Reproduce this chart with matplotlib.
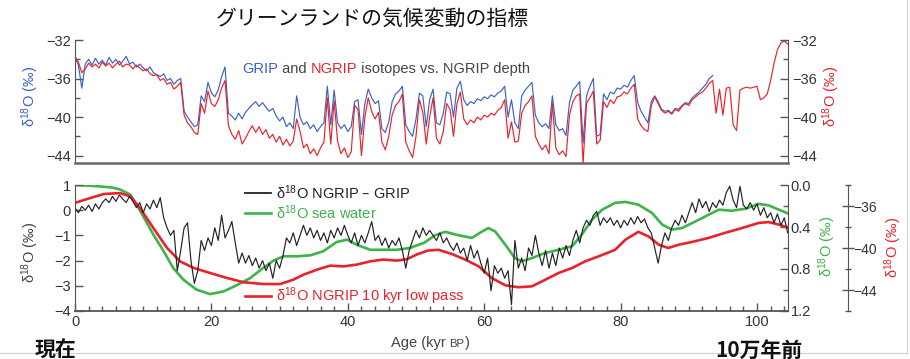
import numpy as np
import matplotlib
matplotlib.use("Agg")
import matplotlib.pyplot as plt
from matplotlib.ticker import FixedLocator, MultipleLocator, FuncFormatter
from matplotlib.offsetbox import TextArea, HPacker, AnchoredOffsetbox
from matplotlib.lines import Line2D

plt.rcParams['font.family'] = ['Liberation Sans', 'Noto Sans CJK JP', 'DejaVu Sans']
plt.rcParams['mathtext.default'] = 'regular'
plt.rcParams['axes.unicode_minus'] = True

# ---------------------------------------------------------------------------
# Data
# ---------------------------------------------------------------------------
STEP = 0.5  # kyr between samples of the isotope records

# NGRIP d18O (permil), 0 .. 104.5 kyr BP
ngrip = [
    -33.7, -34.3, -35.4, -35.0, -34.4, -34.8, -34.5, -34.9, -34.3, -34.7,
    -34.4, -34.9, -34.5, -34.2, -34.8, -34.5, -34.6, -35.0, -34.6, -34.9,
    -35.2, -35.0, -35.5, -35.7, -35.6, -36.2, -36.0, -36.6, -36.4, -37.1,
    -36.8, -36.4, -39.8, -40.6, -41.0, -41.6, -41.8, -38.6, -39.6, -37.3,
    -38.6, -38.9, -38.2, -37.0, -36.2, -40.9, -41.8, -42.3, -41.4, -42.8,
    -42.2, -41.5, -40.9, -41.6, -41.0, -41.8, -41.3, -42.2, -41.8, -42.6,
    -42.0, -42.9, -42.3, -43.0, -42.5, -40.2, -41.5, -43.2, -42.8, -43.8,
    -43.3, -44.0, -43.2, -42.6, -38.0, -42.8, -38.3, -42.5, -43.8, -43.2,
    -44.2, -43.6, -38.8, -39.2, -44.0, -40.0, -38.0, -39.4, -40.2, -39.5,
    -42.6, -43.4, -42.0, -39.8, -38.8, -38.4, -37.6, -42.6, -43.5, -44.2,
    -42.0, -38.2, -39.5, -42.8, -40.0, -38.0, -42.2, -42.8, -41.5, -38.6,
    -39.2, -42.0, -38.6, -37.4, -40.2, -40.8, -40.3, -40.6, -40.0, -40.3,
    -39.8, -40.0, -39.6, -39.8, -39.3, -39.0, -38.2, -42.2, -40.5, -42.6,
    -42.5, -39.6, -38.8, -38.4, -37.8, -42.0, -42.8, -43.4, -42.9, -43.8,
    -38.6, -43.2, -43.9, -43.5, -44.1, -39.8, -38.4, -37.8, -37.6, -44.8,
    -38.6, -38.0, -37.3, -42.8, -42.4, -38.4, -39.0, -38.2, -38.6, -37.9,
    -37.8, -37.4, -37.6, -37.0, -36.6, -40.2, -40.9, -41.3, -41.5, -38.8,
    -37.9, -38.6, -39.3, -39.6, -39.4, -39.7, -39.2, -39.4, -38.9, -38.6,
    -38.8, -38.2, -37.9, -37.6, -37.4, -37.0, -36.5, -36.2, -39.6, -37.1,
    -39.8, -37.0, -36.9, -40.8, -41.4, -37.2, -37.0, -36.9, -37.0, -36.9,
    -36.8, -38.2, -38.0, -37.6, -36.2, -34.4, -33.0, -32.3, -32.1, -32.4,
]

# GRIP d18O (permil) on the NGRIP depth scale, 0 .. 93.5 kyr BP
grip = [
    -33.8, -34.6, -37.0, -34.5, -34.0, -34.6, -33.9, -34.5, -34.1, -34.6,
    -33.8, -34.4, -34.0, -34.6, -34.2, -33.7, -34.5, -34.3, -34.8, -34.5,
    -34.9, -35.2, -34.8, -35.4, -35.6, -35.8, -35.5, -36.2, -36.0, -36.6,
    -36.2, -36.0, -39.4, -40.0, -40.5, -41.0, -40.8, -37.8, -38.4, -36.4,
    -37.5, -37.9, -37.2, -35.8, -34.8, -39.6, -39.9, -40.3, -39.6, -40.2,
    -39.5, -39.1, -38.7, -38.4, -38.9, -38.5, -39.0, -39.4, -39.1, -39.9,
    -40.4, -40.0, -41.0, -40.6, -41.2, -37.8, -40.0, -40.8, -40.5, -41.2,
    -40.8, -41.5, -41.0, -40.6, -36.8, -40.8, -37.2, -40.6, -41.2, -40.8,
    -41.5, -41.0, -38.4, -38.2, -41.8, -38.6, -37.1, -38.0, -38.6, -38.3,
    -41.2, -41.6, -40.5, -38.4, -37.6, -37.3, -36.8, -40.8, -41.5, -42.0,
    -40.2, -37.5, -37.8, -41.0, -38.2, -37.1, -40.6, -40.8, -39.6, -37.4,
    -37.6, -40.0, -37.0, -36.3, -38.2, -38.8, -38.4, -38.6, -38.1, -38.3,
    -37.9, -38.1, -37.7, -37.9, -37.5, -37.3, -36.8, -40.0, -38.2, -40.6,
    -41.2, -37.8, -37.2, -36.8, -36.4, -39.8, -40.6, -41.0, -40.7, -41.2,
    -37.8, -40.8, -41.4, -41.2, -41.9, -38.5, -37.2, -36.8, -36.3, -42.7,
    -37.8, -36.8, -36.0, -42.0, -41.8, -37.6, -38.2, -37.4, -37.6, -37.0,
    -37.1, -36.7, -36.9, -36.2, -35.7, -38.5, -39.4, -40.0, -40.6, -38.4,
    -37.8, -38.4, -39.2, -39.4, -39.3, -39.6, -39.1, -39.2, -38.8, -38.5,
    -38.6, -38.0, -37.7, -37.4, -37.0, -36.6, -36.0, -35.7,
]

# NGRIP - GRIP difference signal (permil), 0 .. 104.5 kyr BP
ngrip_minus_grip = [
    0.10, -0.10, 0.15, 0.00, 0.20, -0.05, 0.25, 0.05, 0.30, 0.45,
    0.30, 0.55, 0.35, 0.60, 0.45, 0.30, 0.55, 0.35, 0.10, 0.30,
    -0.10, 0.25, 0.05, 0.40, 0.10, 0.50, -0.30, -0.70, -1.00, -0.80,
    -2.40, -1.60, -0.70, -0.50, -2.00, -2.90, -2.40, -1.20, -1.60, -1.10,
    -1.40, -0.70, -1.20, -0.20, -1.10, -0.80, -0.45, -1.30, -2.10, -1.70,
    -2.10, -1.80, -2.20, -1.90, -2.30, -2.00, -2.40, -2.10, -2.70, -2.00,
    -2.30, -1.80, -1.10, -1.30, -0.90, -1.40, -1.00, -0.60, -1.00, -0.70,
    -1.10, -0.80, -1.20, -0.90, -1.30, -0.80, -1.10, -0.70, -1.00, -0.60,
    -1.00, -1.30, -0.90, -1.40, -1.00, -1.30, -0.90, -0.45, -1.20, -1.00,
    -1.40, -1.10, -1.50, -1.20, -1.40, -1.10, -1.60, -2.30, -1.60, -1.20,
    -0.80, -1.10, -0.70, -1.00, -0.80, -1.00, -1.20, -0.90, -1.30, -1.10,
    -1.40, -1.60, -1.30, -1.70, -1.50, -2.00, -1.40, -1.90, -1.60, -2.10,
    -2.50, -1.90, -3.20, -2.20, -2.50, -2.30, -2.70, -2.40, -3.75, -1.20,
    -2.30, -1.90, -2.40, -1.50, -1.80, -1.00, -1.70, -2.20, -1.60, -2.30,
    -1.70, -2.20, -1.50, -1.90, -1.40, -1.80, -1.20, -0.80, -1.30, -0.70,
    -0.40, -0.60, -0.20, -0.05, -0.60, -0.30, -0.50, -0.30, -0.60, -0.40,
    -0.70, -0.40, -0.60, -0.30, -0.55, -0.25, -0.50, -0.35, -0.70, -0.90,
    -1.50, -2.10, -1.40, -0.90, -1.20, -0.70, -0.40, -0.60, -0.20, -0.50,
    -0.10, 0.30, -0.10, 0.45, 0.10, 0.35, -0.05, 0.30, 0.10, 0.40,
    0.20, 0.70, 0.95, 0.40, 0.10, 0.95, 0.20, 0.05, 0.30, 0.00,
    0.25, -0.20, 0.10, -0.30, -0.10, -0.50, -0.15, -0.60, -0.30, -0.90,
]

# Sea-water d18O (permil)
sea_age = [0, 3, 5.5, 6.6, 8.1, 9.05, 10, 11.5, 13, 14.4, 15.9, 17.8, 19.8,
           21.8, 23.7, 25.7, 27.6, 29.1, 30.6, 32.5, 34.5, 36.4, 38.4, 39.9,
           41.3, 43.3, 45.2, 47.2, 49.1, 51.2, 52.8, 54.3, 56.2, 58.2, 59.6,
           60.6, 61.6, 63.1, 64.5, 65.5, 67, 68.9, 70.9, 72.9, 74.3, 75.8,
           77.3, 79.2, 80.7, 82.6, 84.6, 86.1, 87.5, 89, 91, 92.9, 94.4,
           96.3, 98.3, 100.2, 101.7, 103.2, 104.5]
sea_water = [0.0, 0.01, 0.025, 0.043, 0.091, 0.187, 0.298, 0.473, 0.631,
             0.79, 0.902, 0.996, 1.039, 1.013, 0.955, 0.886, 0.79, 0.72,
             0.679, 0.679, 0.67, 0.631, 0.542, 0.521, 0.569, 0.617, 0.617,
             0.617, 0.60, 0.55, 0.478, 0.446, 0.478, 0.504, 0.446, 0.41,
             0.442, 0.569, 0.696, 0.727, 0.696, 0.648, 0.617, 0.583, 0.473,
             0.331, 0.235, 0.17, 0.161, 0.187, 0.266, 0.377, 0.425, 0.41,
             0.346, 0.283, 0.235, 0.245, 0.226, 0.18, 0.194, 0.235, 0.27]

# NGRIP d18O, 10 kyr low pass (permil)
lowpass_age = [0, 2.2, 4.2, 6.6, 8.1, 9.5, 11.5, 13.5, 15.4, 17.4, 19.8,
               22.3, 24.7, 27.6, 30.1, 32, 33.5, 35.5, 37.4, 39.4, 41.3,
               43.3, 45.2, 47.2, 48.7, 50.1, 51.7, 53.3, 55.3, 57.2, 59.2,
               61.1, 63.1, 65, 67, 68.5, 70.9, 72.9, 74.8, 76.8, 79.2, 80.7,
               82.6, 84.1, 85.6, 87, 88.5, 90.5, 92.9, 95.3, 97.8, 100.2,
               101.7, 103.2, 104.5]
ngrip_lowpass = [-35.70, -35.25, -34.86, -34.77, -35.08, -36.18, -38.10,
                 -40.00, -41.27, -41.90, -42.38, -42.86, -43.26, -43.43,
                 -43.43, -43.02, -42.54, -42.06, -41.68, -41.75, -41.58,
                 -41.27, -41.10, -41.20, -41.06, -40.62, -40.25, -40.17,
                 -40.58, -41.10, -41.75, -42.86, -43.55, -43.74, -43.65,
                 -43.17, -42.38, -41.90, -41.27, -40.79, -40.17, -39.21,
                 -38.46, -38.90, -39.69, -40.00, -39.69, -39.42, -39.04,
                 -38.56, -38.10, -37.62, -37.53, -37.77, -38.05]

age_ngrip = STEP * np.arange(len(ngrip))
age_grip = STEP * np.arange(len(grip))
age_diff = STEP * np.arange(len(ngrip_minus_grip))

# ---------------------------------------------------------------------------
# Style
# ---------------------------------------------------------------------------
BLUE = '#3b62c4'
RED = '#e8232b'
GREEN = '#3db349'
BLACK = '#222222'
AXIS = '#555555'
TICKLBL = '#333333'
FS = 10.5

W, H = 910, 359
fig = plt.figure(figsize=(W / 100, H / 100), dpi=100)

X0, X1 = 75, 787.7
XMAX = 104.5


def fig_box(left, top, right, bottom):
    return [left / W, 1 - bottom / H, (right - left) / W, (bottom - top) / H]


def style_axis(axis):
    axis.tick_params(axis='y', which='both', direction='in', colors=AXIS,
                     labelcolor=TICKLBL, labelsize=FS, width=1.0)
    axis.tick_params(axis='y', which='major', length=6, pad=3)
    axis.tick_params(axis='y', which='minor', length=3.5)


def d18o_label():
    return 'δ$^{18}$O (‰)'


# ---------------------------------------------------------------------------
# Upper panel: GRIP and NGRIP isotopes
# ---------------------------------------------------------------------------
ax1 = fig.add_axes(fig_box(X0, 40, X1, 163.3))
ax1.set_xlim(0, XMAX)
ax1.set_ylim(-44.8, -32)
ax1.plot(age_grip, grip, color=BLUE, lw=0.85, zorder=2)
ax1.plot(age_ngrip, ngrip, color=RED, lw=0.85, zorder=3)

ax1r = ax1.twinx()
ax1r.set_ylim(-44.8, -32)

for a in (ax1, ax1r):
    a.patch.set_visible(False)
    a.spines['top'].set_visible(False)
    a.yaxis.set_major_locator(FixedLocator([-44, -40, -36, -32]))
    a.yaxis.set_minor_locator(FixedLocator([-42, -38, -34]))
    style_axis(a)
    a.set_xticks([])
ax1.spines['right'].set_visible(False)
ax1r.spines['left'].set_visible(False)
ax1r.spines['bottom'].set_visible(False)
ax1.spines['left'].set_color(AXIS)
ax1r.spines['right'].set_color(AXIS)
ax1.spines['bottom'].set_color('#666666')
ax1.spines['bottom'].set_linewidth(1.8)

fig.text(30 / W, 1 - 97 / H, d18o_label(), color=BLUE, fontsize=FS,
         rotation=90, ha='center', va='center')
fig.text(831 / W, 1 - 97 / H, d18o_label(), color=RED, fontsize=FS,
         rotation=90, ha='center', va='center')

# coloured caption inside the upper panel
parts = [('GRIP', BLUE), (' and ', '#444444'), ('NGRIP', RED),
         (' isotopes vs. NGRIP depth', '#444444')]
boxes = [TextArea(t, textprops=dict(color=c, fontsize=FS)) for t, c in parts]
cap = AnchoredOffsetbox(loc='center left', child=HPacker(children=boxes, sep=0, pad=0),
                        bbox_to_anchor=((242 - X0) / (X1 - X0), (163.3 - 69) / 123.3),
                        bbox_transform=ax1.transAxes, frameon=False, pad=0, borderpad=0)
ax1.add_artist(cap)

# ---------------------------------------------------------------------------
# Lower panel: difference, sea water and low-pass signals
# ---------------------------------------------------------------------------
ax2 = fig.add_axes(fig_box(X0, 185, X1, 311))
ax2.set_xlim(0, XMAX)
ax2.set_ylim(-4, 1)

ax2g = ax2.twinx()
ax2g.set_ylim(1.2, 0.0)
ax2r = ax2.twinx()
ax2r.set_ylim(-46, -34)

ax2g.plot(sea_age, sea_water, color=GREEN, lw=1.9, zorder=2)
ax2r.plot(lowpass_age, ngrip_lowpass, color=RED, lw=1.9, zorder=2)
ax2.set_zorder(3)
ax2.plot(age_diff, ngrip_minus_grip, color=BLACK, lw=0.85)

for a in (ax2, ax2g, ax2r):
    a.patch.set_visible(False)
    a.spines['top'].set_visible(False)
    style_axis(a)

ax2.spines['right'].set_visible(False)
ax2.spines['left'].set_color(AXIS)
ax2.spines['bottom'].set_color(AXIS)
ax2.spines['bottom'].set_linewidth(1.3)
ax2.yaxis.set_major_locator(MultipleLocator(1))
ax2.yaxis.set_major_formatter(FuncFormatter(lambda v, p: f'{v:.0f}'.replace('-', '\u2212')))

ax2.xaxis.set_major_locator(MultipleLocator(20))
ax2.xaxis.set_minor_locator(MultipleLocator(2))
ax2.tick_params(axis='x', which='both', direction='in', colors=AXIS,
                labelcolor=TICKLBL, labelsize=FS, width=1.0)
ax2.tick_params(axis='x', which='major', length=6, pad=3)
ax2.tick_params(axis='x', which='minor', length=3.5)

for s in ('left', 'bottom'):
    ax2g.spines[s].set_visible(False)
    ax2r.spines[s].set_visible(False)
ax2g.spines['right'].set_color(AXIS)
ax2g.yaxis.set_major_locator(FixedLocator([0.0, 0.4, 0.8, 1.2]))
ax2g.yaxis.set_minor_locator(FixedLocator([0.2, 0.6, 1.0]))
ax2g.yaxis.set_major_formatter(FuncFormatter(lambda v, p: f'{v:.1f}'))
ax2g.tick_params(axis='y', which='major', pad=2)

ax2r.spines['right'].set_position(('axes', (848 - X0) / (X1 - X0)))
ax2r.spines['right'].set_color(AXIS)
ax2r.yaxis.set_major_locator(FixedLocator([-44, -40, -36]))
ax2r.yaxis.set_minor_locator(FixedLocator([-46, -42, -38, -34]))
ax2r.tick_params(axis='y', which='both', direction='inout')
ax2r.tick_params(axis='y', which='major', length=8, pad=0, labelsize=10)
ax2r.tick_params(axis='y', which='minor', length=5)

fig.text(30 / W, 1 - 253 / H, d18o_label(), color='#444444', fontsize=FS,
         rotation=90, ha='center', va='center')
fig.text(827 / W, 1 - 247 / H, d18o_label(), color=GREEN, fontsize=FS,
         rotation=90, ha='center', va='center')
fig.text(893 / W, 1 - 248 / H, d18o_label(), color=RED, fontsize=FS,
         rotation=90, ha='center', va='center')


# series key
def key_entry(ytop, color, text):
    yf = (311 - ytop) / 126
    x_a = (245 - X0) / (X1 - X0)
    x_b = (271 - X0) / (X1 - X0)
    ax2.add_line(Line2D([x_a, x_b], [yf, yf], transform=ax2.transAxes,
                        color=color, lw=1.9 if color != BLACK else 1.3,
                        clip_on=False))
    ax2.text((276 - X0) / (X1 - X0), yf, text, transform=ax2.transAxes,
             color=color, fontsize=FS, va='center', ha='left')


key_entry(193, BLACK, 'δ$^{18}$O NGRIP – GRIP')
key_entry(213, GREEN, 'δ$^{18}$O sea water')
key_entry(296, RED, 'δ$^{18}$O NGRIP 10 kyr low pass')

# x-axis label with small-caps BP
xl = [TextArea('Age (kyr ', textprops=dict(color='#444444', fontsize=FS)),
      TextArea('BP', textprops=dict(color='#444444', fontsize=FS * 0.78)),
      TextArea(')', textprops=dict(color='#444444', fontsize=FS))]
xlab = AnchoredOffsetbox(loc='center', child=HPacker(children=xl, sep=0, pad=0, align='baseline'),
                         bbox_to_anchor=(430 / W, 1 - 343 / H),
                         bbox_transform=fig.transFigure, frameon=False, pad=0, borderpad=0)
fig.add_artist(xlab)

# ---------------------------------------------------------------------------
# Titles and annotations
# ---------------------------------------------------------------------------
fig.text(372 / W, 1 - 19 / H, 'グリーンランドの気候変動の指標', fontsize=15,
         family=['Noto Sans CJK JP', 'DejaVu Sans'], ha='center', va='center', color='#111111')
fig.text(35 / W, 1 - 350 / H, '現在', fontsize=15, weight='bold',
         family=['Noto Sans CJK JP', 'DejaVu Sans'], ha='left', va='center', color='#111111')
fig.text(715 / W, 1 - 350 / H, '10万年前', fontsize=15, weight='bold',
         family=['Noto Sans CJK JP', 'DejaVu Sans'], ha='left', va='center', color='#111111')

# light frame lines
fig.add_artist(Line2D([907 / W, 907 / W], [1 - 352.5 / H, 1], transform=fig.transFigure,
                      color='#d0d0d0', lw=0.8))
fig.add_artist(Line2D([0, 907 / W], [1 - 352.5 / H, 1 - 352.5 / H], transform=fig.transFigure,
                      color='#d0d0d0', lw=0.8, zorder=0))

fig.savefig('out.png', dpi=100)
